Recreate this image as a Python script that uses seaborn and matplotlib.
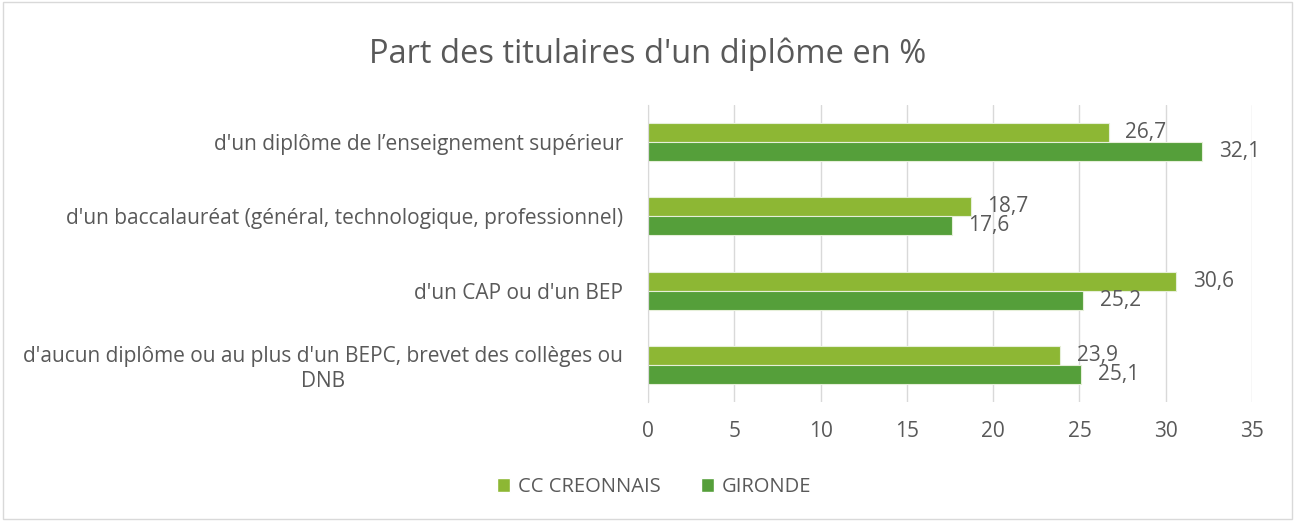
import pandas as pd
import matplotlib.pyplot as plt
import seaborn as sns
from matplotlib.patches import Patch, Rectangle

# Data
categories = [
    "d'un diplôme de l\u2019enseignement supérieur",
    "d'un baccalauréat (général, technologique, professionnel)",
    "d'un CAP ou d'un BEP",
    "d'aucun diplôme ou au plus d'un BEPC, brevet des collèges ou\nDNB",
]
series = ["CC CREONNAIS", "GIRONDE"]
cc_creonnais = [26.7, 18.7, 30.6, 23.9]
gironde = [32.1, 17.6, 25.2, 25.1]
xticks = [0, 5, 10, 15, 20, 25, 30, 35]

colors = {"CC CREONNAIS": "#8DB734", "GIRONDE": "#559F3A"}
text_color = "#595959"

df = pd.DataFrame({
    "Categorie": categories * 2,
    "Serie": [series[0]] * 4 + [series[1]] * 4,
    "Valeur": cc_creonnais + gironde,
})

sns.set_style("white")
plt.rcParams['font.family'] = ['Open Sans', 'DejaVu Sans']

fig = plt.figure(figsize=(12.95, 5.21), dpi=100)
ax = fig.add_axes([0.5004, 0.2284, 0.4664, 0.5701])

sns.barplot(data=df, y="Categorie", x="Valeur", hue="Serie", order=categories,
            hue_order=series, palette=colors, orient="h", width=0.51,
            saturation=1, edgecolor="#E6EFD9", linewidth=0.8, ax=ax, legend=False)

# Value labels
for container in ax.containers:
    ax.bar_label(container, labels=[f"{v:.1f}".replace(".", ",") for v in container.datavalues],
                 padding=12, fontsize=15, color=text_color)

ax.set_xlim(0, 35)
ax.set_xticks(xticks)
ax.set_xticklabels([str(t) for t in xticks], fontsize=15, color=text_color)
ax.tick_params(axis="x", length=0, pad=14)
ax.tick_params(axis="y", length=0, pad=18)
for lbl in ax.get_yticklabels():
    lbl.set_fontsize(15)
    lbl.set_color(text_color)
    lbl.set_multialignment("center")
ax.set_xlabel("")
ax.set_ylabel("")
ax.grid(axis="x", color="#D9D9D9", linewidth=1)
ax.set_axisbelow(True)
for s in ["top", "right", "bottom"]:
    ax.spines[s].set_visible(False)
ax.spines["left"].set_color("#D9D9D9")

fig.suptitle("Part des titulaires d'un diplôme en %", y=0.928, fontsize=23.5,
             color=text_color)

handles = [Patch(facecolor=colors[s], label=s) for s in series]
fig.legend(handles=handles, loc="center", bbox_to_anchor=(0.505, 0.065), ncol=2,
           frameon=False, fontsize=14.5, labelcolor=text_color, handlelength=0.65,
           handleheight=0.65, columnspacing=2.0, handletextpad=0.4)

fig.patches.append(Rectangle((0.002, 0.003), 0.996, 0.994, transform=fig.transFigure,
                             fill=False, edgecolor="#D9D9D9", linewidth=1))

fig.savefig("out.png", dpi=100)
